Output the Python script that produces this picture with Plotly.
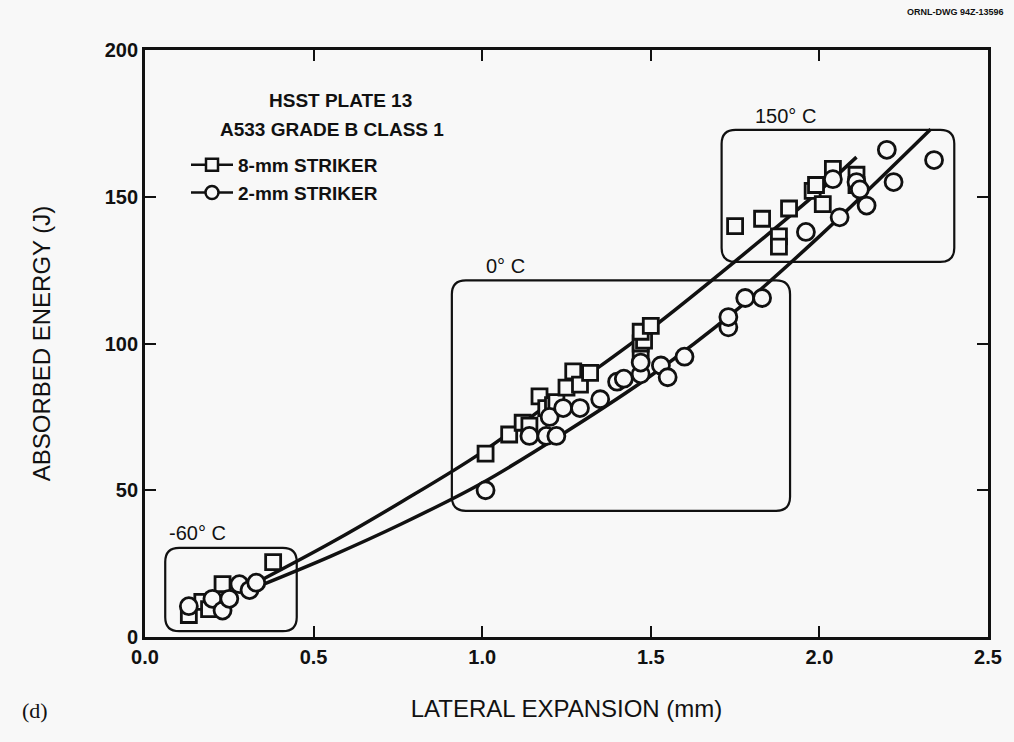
import plotly.graph_objects as go

# 8-mm striker: lateral expansion (mm) and absorbed energy (J)
s8_x = [0.13, 0.17, 0.19, 0.23, 0.38,
        1.01, 1.08, 1.12, 1.14, 1.17, 1.19, 1.21, 1.22, 1.25, 1.27, 1.29, 1.32,
        1.47, 1.47, 1.48, 1.47, 1.50,
        1.75, 1.83, 1.91, 1.88, 1.88, 1.98, 1.99, 2.01, 2.04, 2.11, 2.11]
s8_y = [7.5, 12.0, 9.5, 18.0, 25.5,
        62.5, 69.0, 73.0, 72.0, 82.0, 78.0, 79.0, 80.0, 85.0, 90.5, 86.0, 90.0,
        96.0, 100.0, 101.0, 104.0, 106.0,
        140.0, 142.5, 146.0, 136.5, 133.0, 152.0, 154.0, 147.5, 159.5, 157.5, 154.0]

# 2-mm striker
s2_x = [0.13, 0.20, 0.23, 0.25, 0.28, 0.31, 0.33,
        1.01, 1.14, 1.19, 1.20, 1.22, 1.24, 1.29, 1.35, 1.40, 1.42, 1.47, 1.47,
        1.53, 1.55, 1.60, 1.73, 1.73, 1.78, 1.83,
        1.96, 2.04, 2.06, 2.11, 2.12, 2.14, 2.20, 2.22, 2.34]
s2_y = [10.5, 13.0, 9.0, 13.0, 18.0, 16.0, 18.5,
        50.0, 68.5, 68.5, 75.0, 68.5, 78.0, 78.0, 81.0, 87.0, 88.0, 89.5, 93.5,
        92.5, 88.5, 95.5, 105.5, 109.0, 115.5, 115.5,
        138.0, 156.0, 143.0, 155.0, 152.5, 147.0, 166.0, 155.0, 162.5]

# fitted curves
fit8_x = [0.33, 0.55, 0.76, 1.00, 1.25, 1.50, 1.75, 2.00, 2.11]
fit8_y = [18.5, 32.0, 46.0, 63.0, 84.0, 105.0, 128.0, 152.0, 163.5]
fit2_x = [0.33, 0.55, 0.76, 1.00, 1.25, 1.50, 1.75, 2.00, 2.33]
fit2_y = [17.0, 27.5, 38.5, 52.5, 70.0, 89.0, 111.0, 136.5, 173.0]

x_ticks = [0.0, 0.5, 1.0, 1.5, 2.0, 2.5]
x_tick_text = ["0.0", "0.5", "1.0", "1.5", "2.0", "2.5"]
y_ticks = [0, 50, 100, 150, 200]

W, H = 1014, 742
ML, MR, MT, MB = 145, 26, 50, 105
XR = (0.0, 2.5)
YR = (0.0, 200.0)
px_x = (W - ML - MR) / (XR[1] - XR[0])
px_y = (H - MT - MB) / (YR[1] - YR[0])

INK = "#111111"
BG = "#f8f8f8"
FONT = "Liberation Sans, Arial, Helvetica, sans-serif"

fig = go.Figure()

fig.add_trace(go.Scatter(x=fit8_x, y=fit8_y, mode="lines", line=dict(color=INK, width=3.5, shape="spline"),
                         showlegend=False, hoverinfo="skip"))
fig.add_trace(go.Scatter(x=fit2_x, y=fit2_y, mode="lines", line=dict(color=INK, width=3.5, shape="spline"),
                         showlegend=False, hoverinfo="skip"))
fig.add_trace(go.Scatter(x=s8_x, y=s8_y, mode="markers", showlegend=False,
                         marker=dict(symbol="square", size=15, color=BG, line=dict(color=INK, width=2.8))))
fig.add_trace(go.Scatter(x=s2_x, y=s2_y, mode="markers", showlegend=False,
                         marker=dict(symbol="circle", size=17, color=BG, line=dict(color=INK, width=2.8))))

# legend entries
fig.add_trace(go.Scatter(x=[None], y=[None], mode="lines+markers", name="8-mm STRIKER",
                         line=dict(color=INK, width=2.5),
                         marker=dict(symbol="square", size=12, color=BG, line=dict(color=INK, width=2.5))))
fig.add_trace(go.Scatter(x=[None], y=[None], mode="lines+markers", name="2-mm STRIKER",
                         line=dict(color=INK, width=2.5),
                         marker=dict(symbol="circle", size=13, color=BG, line=dict(color=INK, width=2.5))))


def rounded_box(x0, x1, y0, y1, r=14):
    rx, ry = r / px_x, r / px_y
    return (f"M {x0 + rx},{y0} L {x1 - rx},{y0} Q {x1},{y0} {x1},{y0 + ry} "
            f"L {x1},{y1 - ry} Q {x1},{y1} {x1 - rx},{y1} "
            f"L {x0 + rx},{y1} Q {x0},{y1} {x0},{y1 - ry} "
            f"L {x0},{y0 + ry} Q {x0},{y0} {x0 + rx},{y0} Z")


boxes = [(0.06, 0.45, 2.0, 30.4), (0.91, 1.913, 43.0, 121.5), (1.71, 2.40, 127.8, 172.8)]
shapes = [dict(type="path", xref="x", yref="y", path=rounded_box(*b),
               line=dict(color=INK, width=2.2)) for b in boxes]

label_font = dict(size=20, color=INK, family=FONT)
annotations = [
    dict(x=0.155, y=35.5, text="-60° C", showarrow=False, font=label_font),
    dict(x=1.07, y=126.5, text="0° C", showarrow=False, font=label_font),
    dict(x=1.90, y=177.5, text="150° C", showarrow=False, font=label_font),
    dict(x=(340 - ML) / px_x, y=(H - MB - 100) / px_y, text="<b>HSST PLATE 13</b>", showarrow=False,
         font=dict(size=19, color=INK, family=FONT)),
    dict(x=(332 - ML) / px_x, y=(H - MB - 129) / px_y, text="<b>A533 GRADE B CLASS 1</b>", showarrow=False,
         font=dict(size=19, color=INK, family=FONT)),
    dict(xref="paper", yref="paper", x=(20 - ML) / (W - ML - MR), y=-(710 - (H - MB)) / (H - MT - MB),
         xanchor="left", yanchor="middle",
         text="(d)", showarrow=False, font=dict(size=22, color=INK, family="Liberation Serif, Times New Roman, serif")),
    dict(xref="paper", yref="paper", x=(1006 - ML) / (W - ML - MR), y=(H - MB - 12) / (H - MT - MB),
         xanchor="right", yanchor="middle",
         text="<b>ORNL-DWG 94Z-13596</b>", showarrow=False, font=dict(size=9, color=INK, family=FONT)),
]

axis_common = dict(showline=True, linecolor=INK, linewidth=2.8, mirror="ticks", ticks="inside",
                   ticklen=11, tickwidth=2, tickcolor=INK, showgrid=False, zeroline=False)

fig.update_layout(
    width=W, height=H,
    margin=dict(l=ML, r=MR, t=MT, b=MB, autoexpand=False),
    paper_bgcolor=BG, plot_bgcolor=BG,
    font=dict(family=FONT, color=INK),
    xaxis=dict(range=list(XR), tickvals=x_ticks, ticktext=x_tick_text,
               tickfont=dict(size=20, family=FONT, color=INK, weight="bold"),
               title=dict(text="LATERAL EXPANSION (mm)", font=dict(size=24, family=FONT, color=INK), standoff=34),
               **axis_common),
    yaxis=dict(range=list(YR), tickvals=y_ticks, tickfont=dict(size=20, family=FONT, color=INK, weight="bold"),
               title=dict(text="ABSORBED ENERGY (J)", font=dict(size=24, family=FONT, color=INK), standoff=48),
               **axis_common),
    legend=dict(x=(186 - ML) / (W - ML - MR), y=(H - MB - 146) / (H - MT - MB), xanchor="left", yanchor="top",
                bgcolor="rgba(0,0,0,0)", font=dict(size=19, family=FONT, color=INK, weight="bold"),
                itemwidth=42, tracegroupgap=0),
    shapes=shapes,
    annotations=annotations,
)

fig.write_html("out.html")
